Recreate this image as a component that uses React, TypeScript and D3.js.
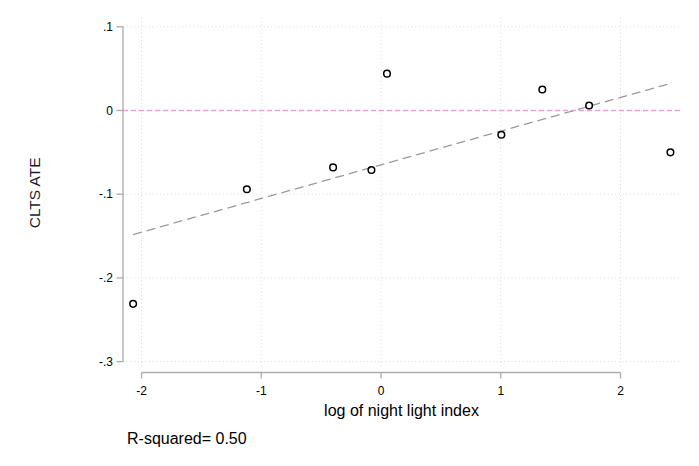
import React from "react";
import * as d3 from "d3";

// log of night light index (x) and CLTS ATE (y)
const lightIndex = [-2.07, -1.12, -0.4, -0.08, 0.05, 1.005, 1.347, 1.738, 2.417];
const clstAte = [-0.231, -0.094, -0.068, -0.071, 0.044, -0.029, 0.025, 0.006, -0.05];
const xTicks = [-2, -1, 0, 1, 2];
const yTicks = [0.1, 0, -0.1, -0.2, -0.3];
const rSquaredText = "R-squared= 0.50";

const W = 699;
const H = 466;
const region = { left: 123, right: 680, top: 17.7, bottom: 368 };

// stata style: ".1", "-.2" with a plain hyphen
const fmtY = (v: number) => (v === 0 ? "0" : v.toFixed(1).replace("0.", "."));

export default function App() {
  const x = d3.scaleLinear().domain([-2, 2]).range([141.5, 620.5]);
  const y = d3.scaleLinear().domain([-0.3, 0.1]).range([361.6, 26.8]);

  // least squares fit through the points
  const mx = d3.mean(lightIndex)!;
  const my = d3.mean(clstAte)!;
  const sxy = d3.sum(lightIndex, (v, i) => (v - mx) * (clstAte[i] - my));
  const sxx = d3.sum(lightIndex, (v) => (v - mx) ** 2);
  const slope = sxy / sxx;
  const icpt = my - slope * mx;
  const [x0, x1] = d3.extent(lightIndex) as [number, number];
  const fit = d3.line<number>()
    .x((v) => x(v))
    .y((v) => y(icpt + slope * v))([x0, x1]);

  const font = "'Liberation Sans', Arial, sans-serif";
  const axisY = 372.5;

  return (
    <svg width={W} height={H} style={{ position: "absolute", left: 0, top: 0, background: "#fff" }} fontFamily={font}>
      {/* grid */}
      <g stroke="#d9d9d9" strokeWidth={1} strokeDasharray="1 2.7">
        {yTicks.map((t) => (
          <line key={"gy" + t} x1={region.left} x2={region.right} y1={y(t)} y2={y(t)} />
        ))}
        {xTicks.map((t) => (
          <line key={"gx" + t} x1={x(t)} x2={x(t)} y1={region.top} y2={region.bottom} />
        ))}
      </g>

      {/* zero reference */}
      <line x1={region.left} x2={region.right} y1={y(0)} y2={y(0)} stroke="#e6a3d6" strokeWidth={1.3} strokeDasharray="5 3" />

      {/* fitted line */}
      <path d={fit!} fill="none" stroke="#9a9a9a" strokeWidth={1.3} strokeDasharray="9 5" />

      {/* points */}
      {lightIndex.map((v, i) => (
        <circle key={i} cx={x(v)} cy={y(clstAte[i])} r={3.3} fill="none" stroke="#000" strokeWidth={1.5} />
      ))}

      {/* y axis */}
      <g stroke="#ababab" strokeWidth={1.3}>
        <line x1={region.left} x2={region.left} y1={y(0.1)} y2={y(-0.3)} />
        {yTicks.map((t) => (
          <line key={"ty" + t} x1={region.left - 6.5} x2={region.left} y1={y(t)} y2={y(t)} />
        ))}
      </g>
      {yTicks.map((t) => (
        <text key={"ly" + t} x={113} y={y(t)} dy="0.35em" textAnchor="end" fontSize={12} fill="#000">
          {fmtY(t)}
        </text>
      ))}

      {/* x axis */}
      <g stroke="#ababab" strokeWidth={1.3}>
        <line x1={x(-2)} x2={x(2)} y1={axisY} y2={axisY} />
        {xTicks.map((t) => (
          <line key={"tx" + t} x1={x(t)} x2={x(t)} y1={axisY} y2={axisY + 6} />
        ))}
      </g>
      {xTicks.map((t) => (
        <text key={"lx" + t} x={x(t)} y={394.5} textAnchor="middle" fontSize={12} fill="#000">
          {String(t)}
        </text>
      ))}

      <text x={(region.left + region.right) / 2} y={416} textAnchor="middle" fontSize={16} fill="#000">
        log of night light index
      </text>
      <text transform={`translate(39.5, ${(region.top + region.bottom) / 2}) rotate(-90)`} textAnchor="middle" fontSize={15.5} fill="#1a1a2e">
        CLTS ATE
      </text>
      <text x={127} y={444} fontSize={16} fill="#000">
        {rSquaredText}
      </text>
    </svg>
  );
}
